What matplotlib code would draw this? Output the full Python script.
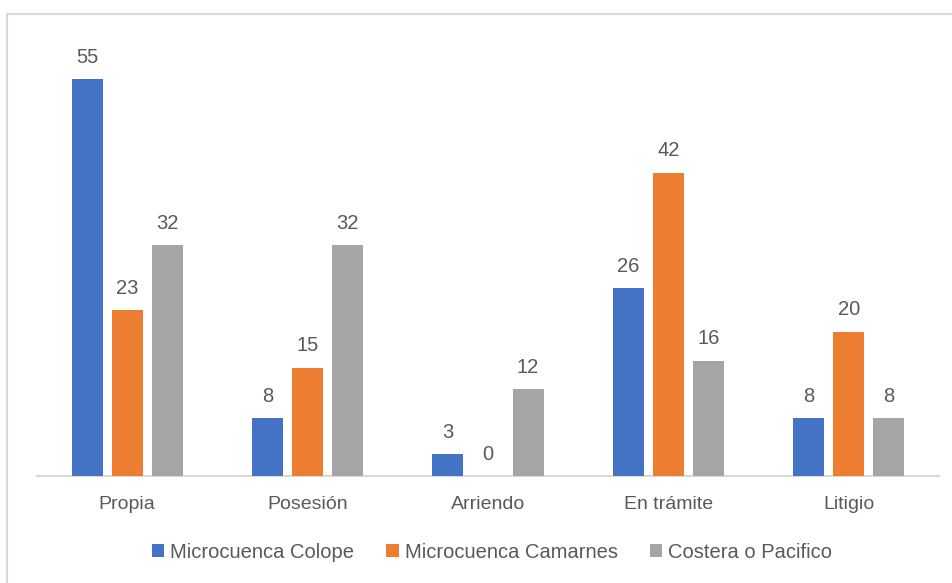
import numpy as np
import matplotlib
matplotlib.use("Agg")
from matplotlib import pyplot as plt
from matplotlib.patches import Rectangle

plt.rcParams['font.family'] = ['Liberation Sans Narrow', 'Liberation Sans', 'DejaVu Sans']

# Data
categories = ["Propia", "Posesión", "Arriendo", "En trámite", "Litigio"]
seriesNames = ["Microcuenca Colope", "Microcuenca Camarnes", "Costera o Pacifico"]
colope = [55, 8, 3, 26, 8]
camarnes = [23, 15, 0, 42, 20]
costera = [32, 32, 12, 16, 8]
allSeries = [colope, camarnes, costera]
colours = ["#4472C4", "#ED7D31", "#A5A5A5"]

textColour = "#595959"
gridColour = "#D9D9D9"

fig = plt.figure(figsize=(9.53, 5.83), dpi=100)
W, H = 953, 583
ax = fig.add_axes([37/W, 1-476/H, (939-37)/W, (476-43)/H])

# chart border (runs off the right and bottom edges in the original)
fig.patches.append(Rectangle((7.5/W, -0.1), 1.2, 1 - 13.5/H + 0.1, transform=fig.transFigure,
                             fill=False, edgecolor=gridColour, linewidth=1.5))

x = np.arange(len(categories))
barWidth = 31/180
offset = 40/180
for j, (vals, name, colour) in enumerate(zip(allSeries, seriesNames, colours)):
    bars = ax.bar(x + (j-1)*offset, vals, width=barWidth, color=colour, label=name, zorder=3)
    ax.bar_label(bars, labels=[str(v) for v in vals], padding=9, fontsize=14.5, color=textColour)

ax.set_xlim(-0.5, len(categories)-0.5)
ax.set_ylim(0, 60)
ax.set_xticks(x)
ax.set_xticklabels(categories, fontsize=14, color=textColour)
ax.tick_params(axis='x', length=0, pad=14.5)
ax.set_yticks([])
for side in ["left", "right", "top"]:
    ax.spines[side].set_visible(False)
ax.spines["bottom"].set_color(gridColour)
ax.spines["bottom"].set_linewidth(1.5)

leg = fig.legend(loc="center", bbox_to_anchor=(492/W, 1-552/H), ncol=3, frameon=False,
                 fontsize=14.5, handlelength=0.6, handleheight=0.6, handletextpad=0.3,
                 columnspacing=1.6, borderpad=0)
for t in leg.get_texts():
    t.set_color(textColour)

fig.savefig("out.png", dpi=100)
